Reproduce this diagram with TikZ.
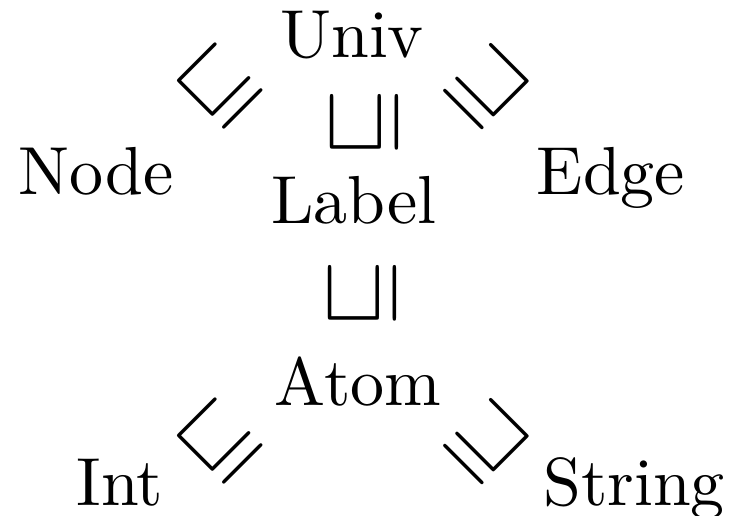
\documentclass[tikz,border=0pt]{standalone}
\usepackage{amssymb}
\begin{document}
\begin{tikzpicture}[typename/.style={anchor=base,inner sep=0pt},
    rel/.style={inner sep=0pt,scale=1.3}]
    \useasboundingbox (0,0) rectangle (3.805,-2.663);
    \node[typename] (univ) at (1.820,-0.295) {Univ};
    \node[typename] (nd) at (0.496,-1.008) {Node};
    \node[typename] (label) at (1.830,-1.153) {Label};
    \node[typename] (edge) at (3.159,-1.008) {Edge};
    \node[typename] (atom) at (1.851,-2.094) {Atom};
    \node[typename] (int) at (0.620,-2.611) {Int};
    \node[typename] (string) at (3.278,-2.611) {String};

    \node[rel,rotate=45] (nu) at (1.132,-0.450) {$\sqsubseteq$};
    \node[rel,rotate=-45] (ue) at (2.520,-0.450) {$\sqsupseteq$};
    \node[rel,rotate=90] (lu) at (1.883,-0.635) {$\sqsubseteq$};
    \node[rel,rotate=90] (al) at (1.872,-1.520) {$\sqsubseteq$};
    \node[rel,rotate=45] (ia) at (1.132,-2.285) {$\sqsubseteq$};
    \node[rel,rotate=-45] (as) at (2.520,-2.285) {$\sqsupseteq$};
  \end{tikzpicture}
\end{document}
